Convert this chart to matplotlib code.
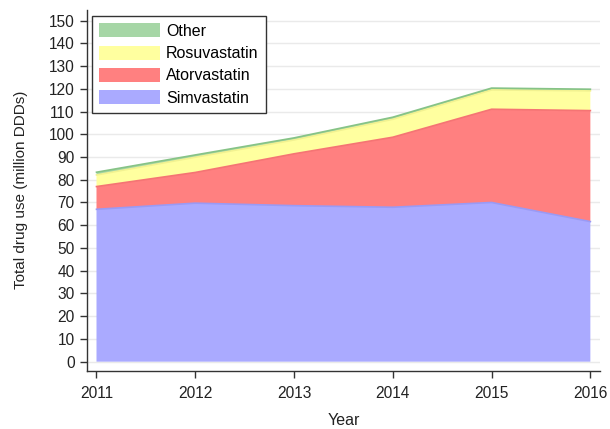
import matplotlib
matplotlib.use("Agg")
import matplotlib.pyplot as plt
import numpy as np
from matplotlib.patches import Patch

years = [2011, 2012, 2013, 2014, 2015, 2016]
simvastatin = [67.0, 69.7, 68.6, 67.9, 70.0, 61.6]
atorvastatin = [10.0, 13.5, 22.8, 30.8, 41.0, 48.8]
rosuvastatin = [5.1, 6.7, 6.1, 7.9, 8.5, 8.7]
other = [1.2, 1.0, 0.9, 0.9, 0.8, 0.7]
series_names = ["Simvastatin", "Atorvastatin", "Rosuvastatin", "Other"]
y_ticks = list(range(0, 151, 10))

fill_colors = ["#aaaaff", "#ff8080", "#ffff9f", "#a6d6a6"]
edge_colors = ["#9a9af5", "#f57474", "#f2f290", "#86c386"]

plt.rcParams['font.family'] = ['Liberation Sans', 'DejaVu Sans']

fig = plt.figure(figsize=(6.10, 4.29), dpi=100)
ax = fig.add_axes([0.142, 0.136, 0.842, 0.841])

data = [simvastatin, atorvastatin, rosuvastatin, other]
base = np.zeros(len(years))
for vals, fc, ec in zip(data, fill_colors, edge_colors):
    top = base + np.array(vals)
    ax.fill_between(years, base, top, facecolor=fc, edgecolor='none', zorder=2)
    ax.plot(years, top, color=ec, lw=1.2, zorder=3)
    base = top

ax.set_xlim(2010.9, 2016.1)
ax.set_ylim(-3.96, 154.7)
ax.set_yticks(y_ticks)
ax.set_xticks(years)
ax.grid(axis='y', color='#eaeaea', lw=1.0, zorder=0)
ax.set_axisbelow(True)
for s in ['top', 'right']:
    ax.spines[s].set_visible(False)
for s in ['left', 'bottom']:
    ax.spines[s].set_color('#333333')
    ax.spines[s].set_linewidth(1.0)
ax.tick_params(axis='both', labelsize=11.2, length=5, width=1.0, color='#333333', labelcolor='#222222')
ax.tick_params(axis='x', pad=6)
ax.set_ylabel("Total drug use (million DDDs)", fontsize=11, color='#222222', labelpad=15)
ax.set_xlabel("Year", fontsize=11.5, color='#222222', labelpad=9)

handles = [Patch(facecolor=c, edgecolor='none') for c in fill_colors]
leg = ax.legend(handles[::-1], series_names[::-1], loc='upper left',
                bbox_to_anchor=(0.0103, 0.983), fontsize=11.5, frameon=True,
                fancybox=False, edgecolor='#333333', framealpha=1,
                handlelength=3.8, handleheight=1.0, labelspacing=0.42,
                borderpad=0.45, handletextpad=0.4, borderaxespad=0)
leg.get_frame().set_linewidth(1.0)

fig.savefig("out.png", dpi=100)
